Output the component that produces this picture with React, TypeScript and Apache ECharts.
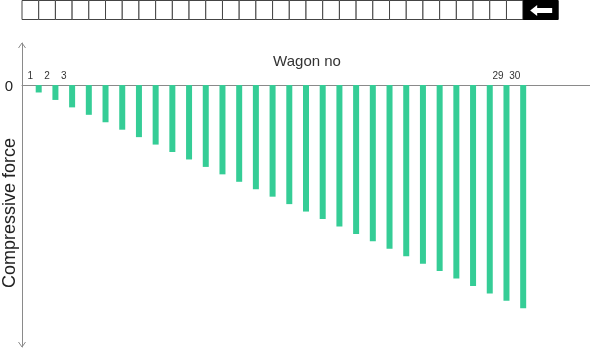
import React, { useEffect, useRef } from "react";
import * as echarts from "echarts";

// Wagon numbers along the train, front (locomotive side) at the right
const wagons = [
  "1", "2", "3", "4", "5", "6", "7", "8", "9", "10",
  "11", "12", "13", "14", "15", "16", "17", "18", "19", "20",
  "21", "22", "23", "24", "25", "26", "27", "28", "29", "30",
];

// Compressive force on each wagon (arbitrary units, drawn downward)
const compressiveForce = [
  -1, -2, -3, -4, -5, -6, -7, -8, -9, -10,
  -11, -12, -13, -14, -15, -16, -17, -18, -19, -20,
  -21, -22, -23, -24, -25, -26, -27, -28, -29, -30,
];

// Wagon numbers printed above the axis
const labelledWagons = ["1", "2", "3", "29", "30"];

const BAR_COLOR = "#35cd96";
const AXIS_COLOR = "#8a8a8a";
const FONT = "Liberation Sans, Arial, sans-serif";

export default function App() {
  const ref = useRef<HTMLDivElement>(null);

  useEffect(() => {
    if (!ref.current) return;
    const chart = echarts.init(ref.current, null, { renderer: "svg" });

    chart.setOption({
      animation: false,
      grid: { left: 22, right: 0, top: 43, bottom: 1 },
      xAxis: {
        type: "value",
        min: 0,
        max: 34,
        axisLine: { show: true, onZero: true, lineStyle: { color: AXIS_COLOR, width: 1 } },
        axisTick: { show: false },
        axisLabel: { show: false },
        splitLine: { show: false },
      },
      yAxis: {
        type: "value",
        min: -35.2,
        max: 5.65,
        axisLine: { show: true, lineStyle: { color: AXIS_COLOR, width: 1 } },
        axisTick: { show: false },
        axisLabel: { show: false },
        splitLine: { show: false },
      },
      series: [
        {
          type: "bar",
          barWidth: 6,
          itemStyle: { color: BAR_COLOR },
          data: wagons.map((w, i) => [Number(w), compressiveForce[i]]),
          label: {
            show: true,
            position: "top",
            distance: 5,
            offset: [-8.35, 0],
            fontFamily: FONT,
            fontSize: 10,
            color: "#333",
            formatter: (p: any) => {
              const w = String(p.value[0]);
              return labelledWagons.includes(w) ? w : "";
            },
          },
        },
      ],
    });

    // Train strip: one box per wagon, locomotive box with arrow at the front
    const step = chart.convertToPixel({ xAxisIndex: 0 }, 1) - chart.convertToPixel({ xAxisIndex: 0 }, 0);
    const x0 = chart.convertToPixel({ xAxisIndex: 0 }, 0);
    const boxTop = 0.5;
    const boxH = 19;
    const wagonBoxes = wagons.map((w, i) => ({
      type: "rect",
      shape: { x: x0 + i * step, y: boxTop, width: step, height: boxH },
      style: { fill: "#fff", stroke: "#444", lineWidth: 1 },
    }));
    const locoX = x0 + wagons.length * step;
    const locoW = 35;
    const cy = boxTop + boxH / 2 + 0.5;
    const ax = locoX + 7;
    const axEnd = locoX + locoW - 6;

    const yTop = chart.convertToPixel({ yAxisIndex: 0 }, 5.65);
    const yBottom = chart.convertToPixel({ yAxisIndex: 0 }, -35.2);
    const yZero = chart.convertToPixel({ yAxisIndex: 0 }, 0);
    const axisX = x0;

    chart.setOption({
      graphic: [
        ...wagonBoxes,
        {
          type: "rect",
          shape: { x: locoX, y: boxTop, width: locoW, height: boxH },
          style: { fill: "#000", stroke: "#000", lineWidth: 1 },
        },
        {
          type: "polygon",
          shape: {
            points: [
              [ax, cy],
              [ax + 7, cy - 5.5],
              [ax + 7, cy - 2.5],
              [axEnd, cy - 2.5],
              [axEnd, cy + 2.5],
              [ax + 7, cy + 2.5],
              [ax + 7, cy + 5.5],
            ],
          },
          style: { fill: "#fff" },
        },
        // open arrowheads on both ends of the force axis
        {
          type: "polyline",
          shape: { points: [[axisX - 3.5, yTop + 5], [axisX, yTop], [axisX + 3.5, yTop + 5]] },
          style: { stroke: AXIS_COLOR, lineWidth: 1, fill: "none" },
        },
        {
          type: "polyline",
          shape: { points: [[axisX - 3.5, yBottom - 5], [axisX, yBottom], [axisX + 3.5, yBottom - 5]] },
          style: { stroke: AXIS_COLOR, lineWidth: 1, fill: "none" },
        },
        {
          type: "text",
          x: 9,
          y: yZero,
          style: {
            text: "0",
            fontFamily: FONT,
            fontSize: 15,
            fill: "#222",
            align: "center",
            verticalAlign: "middle",
          },
        },
        {
          type: "text",
          x: 9,
          y: 213,
          rotation: Math.PI / 2,
          style: {
            text: "Compressive force",
            fontFamily: FONT,
            fontSize: 18,
            fill: "#222",
            align: "center",
            verticalAlign: "middle",
          },
        },
        {
          type: "text",
          x: 307,
          y: 60,
          style: {
            text: "Wagon no",
            fontFamily: FONT,
            fontSize: 15,
            fill: "#333",
            align: "center",
            verticalAlign: "middle",
          },
        },
      ],
    });

    return () => chart.dispose();
  }, []);

  return (
    <div
      ref={ref}
      style={{ position: "fixed", left: 0, top: 0, width: 590, height: 348 }}
    />
  );
}
